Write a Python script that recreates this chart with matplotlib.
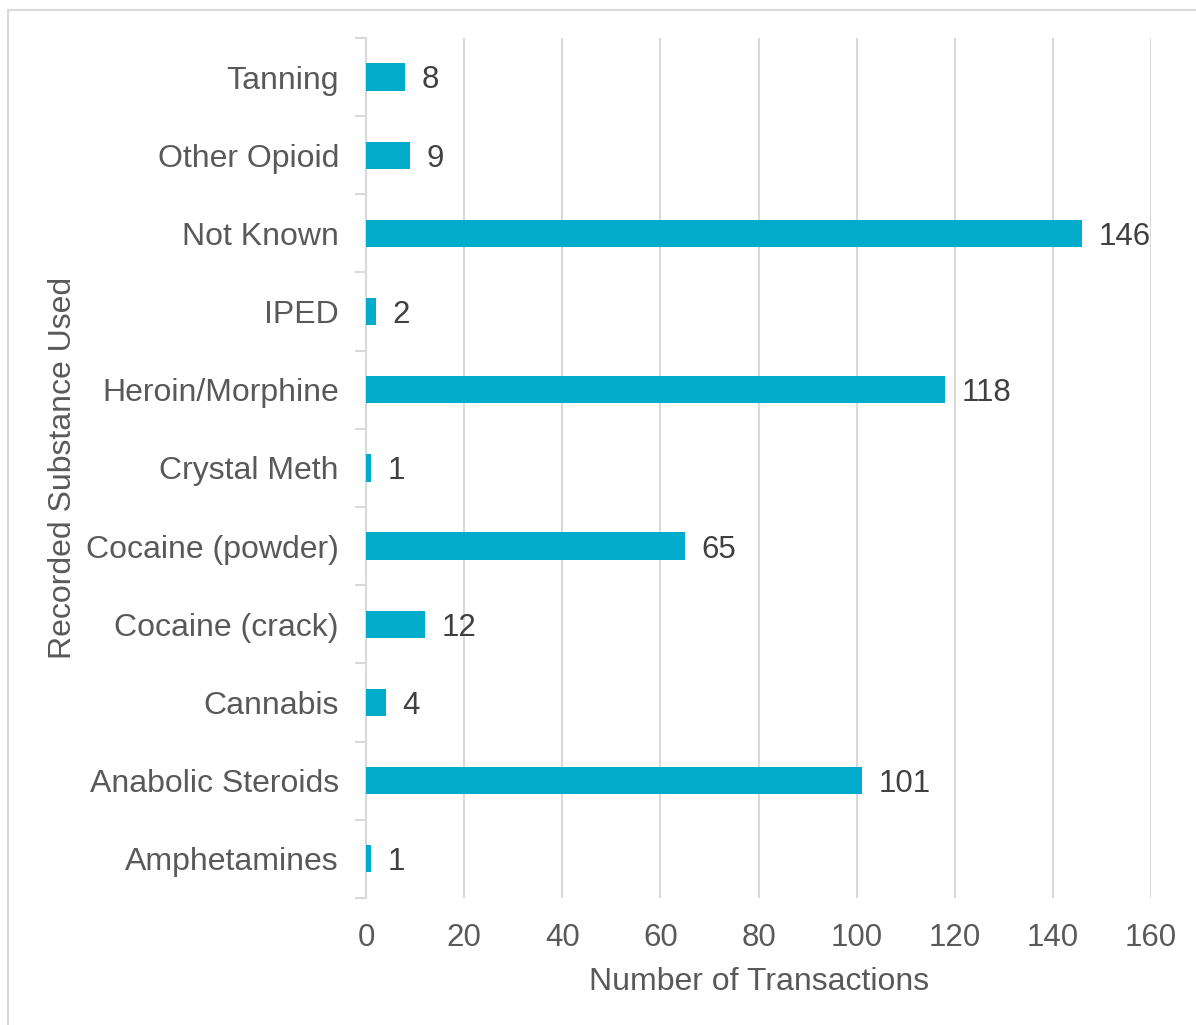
import matplotlib
matplotlib.use('Agg')
import matplotlib.pyplot as plt
from matplotlib.patches import Rectangle

# Data (bottom to top, as drawn)
substances = ['Amphetamines', 'Anabolic Steroids', 'Cannabis', 'Cocaine (crack)',
              'Cocaine (powder)', 'Crystal Meth', 'Heroin/Morphine', 'IPED',
              'Not Known', 'Other Opioid', 'Tanning']
transactions = [1, 101, 4, 12, 65, 1, 118, 2, 146, 9, 8]
x_ticks = [0, 20, 40, 60, 80, 100, 120, 140, 160]

BAR = '#00ACC9'
TEXT = '#595959'
GRID = '#D9D9D9'

plt.rcParams['font.family'] = ['Liberation Sans', 'DejaVu Sans']

fig = plt.figure(figsize=(11.96, 10.25), dpi=100)
ax = fig.add_axes([0.306, 0.124, 0.6565, 0.839])

# chart frame
fig.patches.append(Rectangle((8 / 1196, -0.1), 1.2, 1 - 10 / 1025 + 0.1,
                             transform=fig.transFigure, fill=False,
                             edgecolor=GRID, linewidth=1.5))

y = range(len(substances))
ax.barh(y, transactions, height=0.35, color=BAR, zorder=3)
for yi, v in zip(y, transactions):
    ax.annotate(str(v), (v, yi), xytext=(12, -2.5), textcoords='offset points',
                va='center', ha='left', fontsize=22.5, color='#404040')

ax.set_xlim(0, 160)
ax.set_ylim(-0.5, len(substances) - 0.5)
ax.set_xticks(x_ticks)
ax.set_yticks(y)
ax.set_yticklabels(substances)
ax.set_yticks([i - 0.5 for i in range(len(substances) + 1)], minor=True)

ax.grid(axis='x', color=GRID, linewidth=1.5, zorder=0)
for s in ['top', 'right', 'bottom']:
    ax.spines[s].set_visible(False)
ax.spines['left'].set_color(GRID)
ax.spines['left'].set_linewidth(1.5)

ax.tick_params(axis='x', length=0, labelsize=22.5, labelcolor=TEXT, pad=18)
ax.tick_params(axis='y', which='major', length=0, labelsize=23, labelcolor=TEXT, pad=19.5)
ax.tick_params(axis='y', which='minor', length=8, width=1.5, color=GRID)

ax.set_xlabel('Number of Transactions', fontsize=23, color=TEXT, labelpad=10)
ax.set_ylabel('Recorded Substance Used', fontsize=23, color=TEXT, labelpad=6)

fig.savefig('out.png', dpi=100)
